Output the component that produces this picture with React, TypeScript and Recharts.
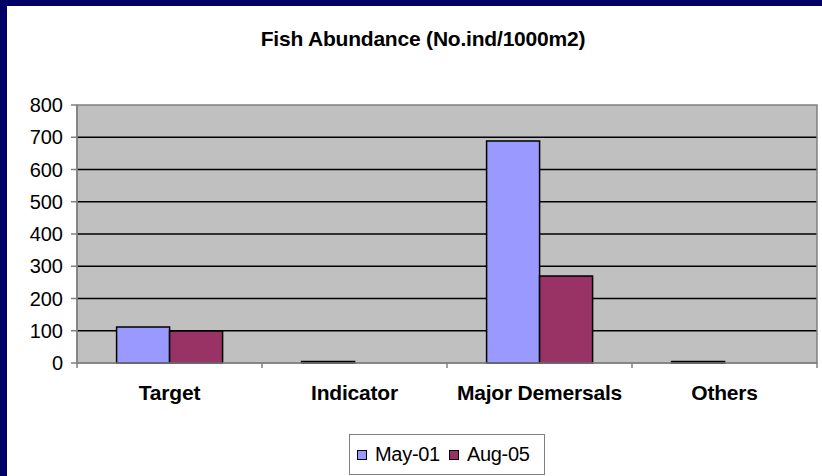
import { Bar, BarChart, CartesianGrid, Legend, ReferenceArea, XAxis, YAxis } from "recharts";

const categories = ["Target", "Indicator", "Major Demersals", "Others"];
const may01 = [112, 5, 688, 5];
const aug05 = [99, 0, 270, 0];
const yTicks = [0, 100, 200, 300, 400, 500, 600, 700, 800];
const innerGrid = [100, 200, 300, 400, 500, 600, 700];

const series = [
  { key: "may", name: "May-01", color: "#9999FF" },
  { key: "aug", name: "Aug-05", color: "#993366" },
];

const data = categories.map((name, i) => ({ name, may: may01[i], aug: aug05[i] }));

const FONT = "'Liberation Sans', Arial, sans-serif";
const AXIS = "#808080";

function CategoryTick(props: any) {
  const { x, y, payload, index, visibleTicksCount } = props;
  const half = payload?.offset ?? 0;
  const last = index === visibleTicksCount - 1;
  return (
    <g>
      <line x1={x - half} x2={x - half} y1={y} y2={y + 5} stroke={AXIS} strokeWidth={1.5} />
      {last && <line x1={x + half} x2={x + half} y1={y} y2={y + 5} stroke={AXIS} strokeWidth={1.5} />}
      <text
        x={x}
        y={y + 37}
        textAnchor="middle"
        fontFamily={FONT}
        fontSize={21}
        fontWeight="bold"
        letterSpacing={-0.2}
        fill="#000"
      >
        {payload.value}
      </text>
    </g>
  );
}

function LegendBox() {
  return (
    <div
      style={{
        boxSizing: "border-box",
        width: "100%",
        height: "100%",
        border: "1px solid #808080",
        background: "#fff",
        display: "flex",
        alignItems: "center",
        paddingLeft: 7,
        fontFamily: FONT,
        fontSize: 20,
        letterSpacing: -0.3,
        color: "#000",
      }}
    >
      {series.map((s, i) => (
        <span key={s.key} style={{ display: "flex", alignItems: "center", marginLeft: i ? 9 : 0 }}>
          <span
            style={{
              display: "inline-block",
              width: 8,
              height: 8,
              background: s.color,
              border: "1.5px solid #000",
              marginRight: 8,
            }}
          />
          {s.name}
        </span>
      ))}
    </div>
  );
}

export default function App() {
  return (
    <div style={{ position: "fixed", left: 0, top: 0, width: 822, height: 476, background: "#000066" }}>
      <div style={{ position: "absolute", left: 7, top: 6, right: 0, bottom: 0, background: "#fff" }} />
      <div
        style={{
          position: "absolute",
          left: 0,
          top: 27,
          width: 846,
          textAlign: "center",
          fontFamily: FONT,
          fontSize: 21,
          fontWeight: "bold",
          letterSpacing: -0.2,
          color: "#000",
        }}
      >
        Fish Abundance (No.ind/1000m2)
      </div>
      <div style={{ position: "absolute", left: 0, top: 0 }}>
        <BarChart
          width={822}
          height={476}
          data={data}
          margin={{ top: 105, right: 5, left: 0, bottom: 73 }}
          barCategoryGap="21.4%"
          barGap={0}
        >
          <CartesianGrid
            horizontal
            vertical={false}
            horizontalValues={innerGrid}
            stroke="#000"
            strokeWidth={1.4}
            fill="#C0C0C0"
            fillOpacity={1}
          />
          <ReferenceArea y1={0} y2={800} fill="none" stroke={AXIS} strokeWidth={1.5} ifOverflow="visible" />
          <XAxis
            dataKey="name"
            height={40}
            axisLine={{ stroke: AXIS, strokeWidth: 1.5 }}
            tickLine={false}
            tickSize={0}
            tickMargin={0}
            interval={0}
            tick={<CategoryTick />}
          />
          <YAxis
            width={77}
            domain={[0, 800]}
            ticks={yTicks}
            interval={0}
            axisLine={{ stroke: AXIS, strokeWidth: 1.5 }}
            tickLine={{ stroke: AXIS, strokeWidth: 1.5 }}
            tickSize={6}
            tickMargin={8}
            tick={{ fill: "#000", fontSize: 20, fontFamily: FONT }}
          />
          <Legend
            layout="horizontal"
            verticalAlign="middle"
            align="center"
            wrapperStyle={{ left: 349, top: 434, width: 196, height: 41 }}
            content={<LegendBox />}
          />
          {series.map((s) => (
            <Bar
              key={s.key}
              dataKey={s.key}
              name={s.name}
              fill={s.color}
              stroke="#000"
              strokeWidth={1.5}
              isAnimationActive={false}
            />
          ))}
        </BarChart>
      </div>
    </div>
  );
}
